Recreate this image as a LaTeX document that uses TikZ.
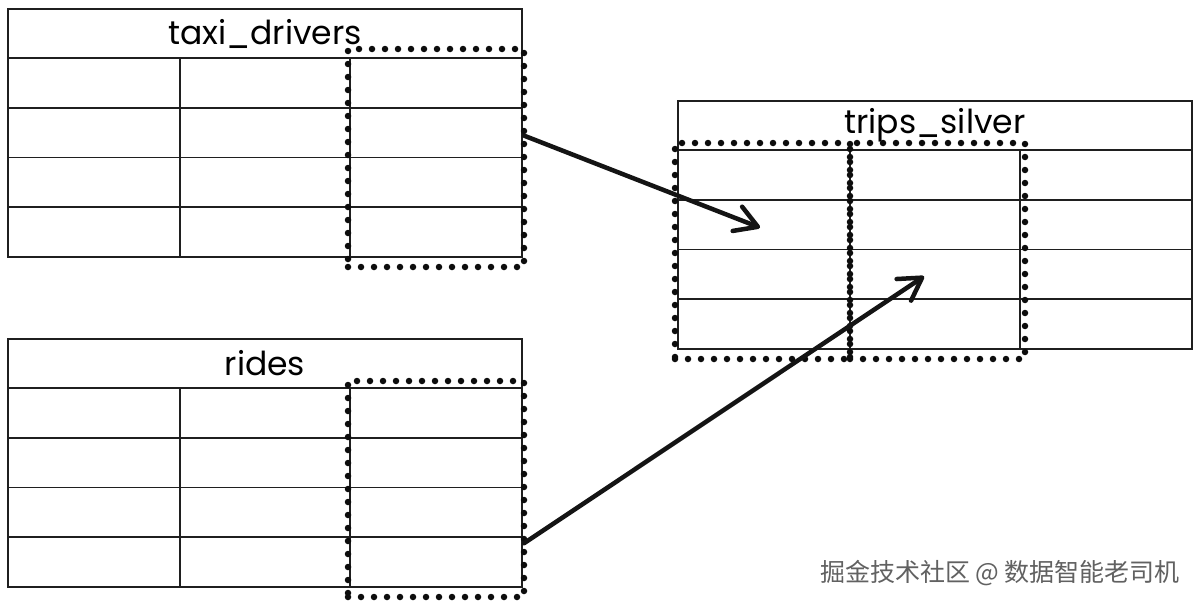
\documentclass[tikz,border=0pt]{standalone}
\usepackage{fontspec}
\setmainfont{Poppins}
\newfontfamily\cjk{Noto Sans CJK SC}
\usetikzlibrary{arrows.meta,calc}
\tikzset{
  hdr/.style={draw=black!88, line width=1.8pt, minimum width=514pt, minimum height=49pt,
    inner sep=0pt, outer sep=0pt, font=\fontsize{33}{34}\selectfont},
  cell/.style={draw=black!88, line width=1.8pt, minimum height=49.75pt, inner sep=0pt, outer sep=0pt},
  dotbox/.style={draw=black!95, line width=6.5pt, dash pattern=on 0pt off 13pt, line cap=round,
    inner sep=0pt, outer sep=0pt, fill=none},
  flow/.style={draw=black!92, line width=4.5pt, line cap=round,
    -{Straight Barb[length=22pt,width=26pt,line width=4.5pt,round]}},
  wmtext/.style={font=\cjk\fontsize{25}{27}\selectfont, text=black!62}
}
\newcommand{\dbtable}[4]{% name, x, y, title
  \node[hdr, anchor=north west] (#1-h) at (#2,#3) {#4};
  \foreach \r in {1,...,4}{
    \foreach \c/\dx/\w in {1/0/172,2/172/170,3/342/172}{
      \node[cell, minimum width=\w pt, anchor=north west] (#1-\r-\c) at ({#2+\dx},{#3+49+(\r-1)*49.75}) {};
    }
  }
}
\begin{document}
\begin{tikzpicture}[x=1pt,y=-1pt]
\useasboundingbox (0,0) rectangle (1199,605);
\fill[white] (0,0) rectangle (1199,605);
% tables
\dbtable{td}{8}{9}{taxi\_drivers}
\dbtable{rd}{8}{339}{rides}
\dbtable{ts}{678}{101}{trips\_silver}
% dotted column selections
\node[dotbox, minimum width=176pt, minimum height=218pt, anchor=north west] (td-dot) at (348,49) {};
\node[dotbox, minimum width=176pt, minimum height=216pt, anchor=north west] (rd-dot) at (348,381) {};
\node[dotbox, minimum width=175pt, minimum height=216pt, anchor=north west] (ts-dot1) at (675,143) {};
\node[dotbox, minimum width=175pt, minimum height=216pt, anchor=north west] (ts-dot2) at (850,143) {};
% connectors
\coordinate (a1s) at ($(td-dot.east |- td-2-3.center)+(0,3)$);
\coordinate (a1e) at ($(ts-2-1.center)+(-4,3)$);
\coordinate (a2s) at ($(rd-dot.east |- rd-4-3.north)+(0,6)$);
\coordinate (a2e) at ($(ts-3-2.center)+(-11,2)$);
\draw[flow] (a1s) -- (a1e);
\draw[flow] (a2s) -- (a2e);
% watermark
\node[wmtext] (wm) at (1000,573) {掘金技术社区 @ 数据智能老司机};
\end{tikzpicture}
\end{document}
